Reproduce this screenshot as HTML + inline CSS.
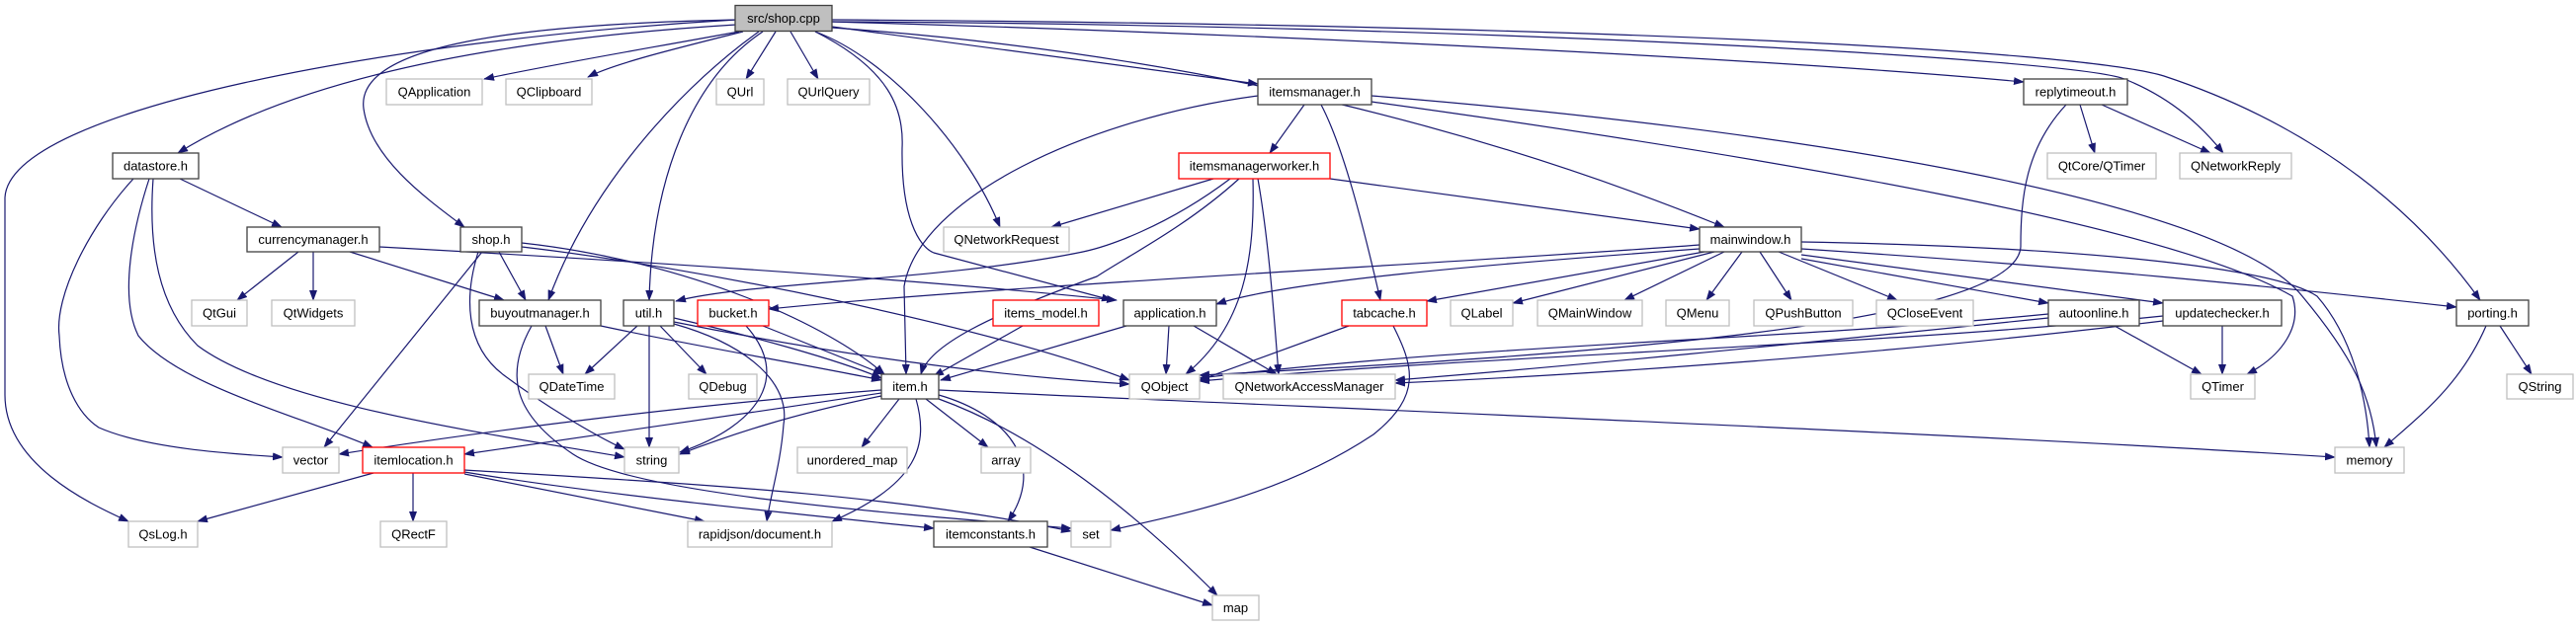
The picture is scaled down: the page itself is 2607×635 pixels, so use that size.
<!DOCTYPE html>
<html><head><meta charset="utf-8"><style>
html,body{margin:0;padding:0;background:#fff;}
svg{display:block;}
text{font-family:"Liberation Sans",sans-serif;font-size:13px;fill:#000;text-anchor:middle;}
.e{fill:none;stroke:#191970;stroke-width:1.2;marker-end:url(#a);}
.b{fill:#fff;stroke:#404040;stroke-width:1.3;}
.g{fill:#fff;stroke:#bfbfbf;stroke-width:1.3;}
.r{fill:#fff;stroke:#ff0000;stroke-width:1.3;}
</style></head><body>
<svg width="2607" height="635" viewBox="0 0 2607 635" xmlns="http://www.w3.org/2000/svg">
<defs><marker id="a" markerWidth="11" markerHeight="8" refX="10" refY="4" orient="auto" markerUnits="userSpaceOnUse"><path d="M0,0 L11,4 L0,8 z" fill="#191970"/></marker></defs>
<g>
<path class="e" d="M745,20 C400,40 10,110 5,200 L5,400 C5,470 90,510 130,528"/>
<path class="e" d="M745,25 C500,40 300,80 180,155"/>
<path class="e" d="M745,20 C500,25 360,50 368,110 C375,160 430,200 470,230"/>
<path class="e" d="M748,32 C650,50 560,65 490,80"/>
<path class="e" d="M752,32 C680,50 620,65 595,78"/>
<path class="e" d="M768,32 C700,80 600,180 555,304"/>
<path class="e" d="M772,32 C700,80 660,180 657,304"/>
<path class="e" d="M785,32 L755,80"/>
<path class="e" d="M800,32 L828,80"/>
<path class="e" d="M825,32 C900,60 980,150 1012,230"/>
<path class="e" d="M825,32 C900,70 915,110 913,150 C912,220 930,250 945,256 L1125,304"/>
<path class="e" d="M842,27 L1273,85"/>
<path class="e" d="M842,22 C1300,35 1800,60 2048,83"/>
<path class="e" d="M842,22 C1500,25 2100,60 2150,80 C2200,100 2230,130 2250,155"/>
<path class="e" d="M842,20 C1600,25 2100,50 2190,77 C2350,130 2450,220 2510,304"/>
<path class="e" d="M842,28 C1150,50 1450,110 1745,230"/>

<path class="e" d="M182,181 L285,230"/>
<path class="e" d="M135,181 C90,230 55,300 60,340 C62,390 80,420 100,433 C150,455 240,460 286,463"/>
<path class="e" d="M151,181 C135,230 120,300 140,340 C180,390 300,420 377,453"/>
<path class="e" d="M155,181 C150,250 160,310 200,350 C280,410 500,440 632,463"/>

<path class="e" d="M302,255 L240,304"/>
<path class="e" d="M317,255 L317,304"/>
<path class="e" d="M354,255 L510,304"/>
<path class="e" d="M384,250 C600,262 900,280 1130,304"/>

<path class="e" d="M505,255 L532,304"/>
<path class="e" d="M488,255 L328,453"/>
<path class="e" d="M484,255 C470,300 470,350 510,380 C550,410 600,440 632,455"/>
<path class="e" d="M528,246 C700,265 840,330 895,379"/>
<path class="e" d="M528,250 C700,270 1000,330 1143,385"/>

<path class="e" d="M552,330 L570,379"/>
<path class="e" d="M538,330 C510,380 520,420 580,460 C640,500 900,520 1084,535"/>
<path class="e" d="M608,330 C700,350 820,370 892,385"/>

<path class="e" d="M645,330 L592,379"/>
<path class="e" d="M657,330 L657,453"/>
<path class="e" d="M668,330 L715,379"/>
<path class="e" d="M682,322 C760,340 850,365 892,383"/>
<path class="e" d="M682,326 C850,360 1000,380 1143,389"/>
<path class="e" d="M682,328 C760,350 800,390 793,430 C790,470 780,500 776,528"/>

<path class="e" d="M772,330 L894,379"/>
<path class="e" d="M755,330 C800,380 770,430 688,458"/>
<path class="e" d="M1720,248 C1500,265 1000,290 778,313"/>
<path class="e" d="M1720,252 C1500,268 1300,285 1231,308"/>

<path class="e" d="M1245,181 C1180,230 1120,250 1096,255 C950,285 760,285 684,305"/>
<path class="e" d="M1254,181 C1200,230 1140,260 1110,280 C1000,320 940,350 932,379"/>
<path class="e" d="M1228,181 L1064,230"/>
<path class="e" d="M1268,181 C1270,260 1260,330 1200,379"/>
<path class="e" d="M1273,181 C1285,250 1290,330 1294,379"/>
<path class="e" d="M1346,181 L1720,232"/>

<path class="e" d="M1320,106 L1285,155"/>
<path class="e" d="M1273,97 C1100,120 930,200 915,290 L917,379"/>
<path class="e" d="M1337,106 C1360,150 1380,230 1397,304"/>
<path class="e" d="M1388,97 C1800,130 2250,200 2330,300 C2380,360 2400,400 2405,453"/>
<path class="e" d="M1388,103 C1800,160 2200,230 2320,300 C2330,330 2310,360 2274,379"/>

<path class="e" d="M2105,106 L2120,155"/>
<path class="e" d="M2127,106 L2237,155"/>
<path class="e" d="M2091,106 C2050,150 2045,200 2045,250 C2040,330 1600,360 1214,380"/>

<path class="e" d="M1725,255 L1444,305"/>
<path class="e" d="M1735,255 L1531,307"/>
<path class="e" d="M1745,255 L1644,304"/>
<path class="e" d="M1763,255 L1727,304"/>
<path class="e" d="M1781,255 L1813,304"/>
<path class="e" d="M1800,255 L1920,304"/>
<path class="e" d="M1823,262 L2073,307"/>
<path class="e" d="M1823,258 L2189,307"/>
<path class="e" d="M1823,252 C2100,270 2300,290 2486,311"/>
<path class="e" d="M1823,245 C2100,250 2300,270 2345,300 C2380,340 2395,400 2398,453"/>

<path class="e" d="M2140,330 L2228,379"/>
<path class="e" d="M2073,318 C1800,345 1500,348 1214,383"/>
<path class="e" d="M2073,322 C1800,350 1600,370 1412,385"/>
<path class="e" d="M2249,330 L2249,379"/>
<path class="e" d="M2189,320 C1900,350 1500,360 1214,386"/>
<path class="e" d="M2189,325 C1900,360 1600,380 1412,388"/>

<path class="e" d="M2530,330 L2562,379"/>
<path class="e" d="M2516,330 C2490,390 2450,420 2413,453"/>

<path class="e" d="M1140,330 L952,385"/>
<path class="e" d="M1183,330 L1180,379"/>
<path class="e" d="M1208,330 L1292,379"/>
<path class="e" d="M1035,330 L945,381"/>
<path class="e" d="M1365,330 L1214,385"/>
<path class="e" d="M1410,330 C1430,370 1440,400 1390,440 C1300,500 1200,520 1124,537"/>

<path class="e" d="M892,395 C700,410 500,435 343,460"/>
<path class="e" d="M892,398 C750,420 600,440 470,460"/>
<path class="e" d="M892,401 C800,420 740,440 688,460"/>
<path class="e" d="M910,404 L872,453"/>
<path class="e" d="M937,404 L1000,453"/>
<path class="e" d="M927,404 C940,450 930,490 842,528"/>
<path class="e" d="M950,400 C1020,420 1060,470 1020,528"/>
<path class="e" d="M950,404 C1050,440 1150,520 1232,603"/>
<path class="e" d="M950,395 C1500,420 2000,440 2363,463"/>

<path class="e" d="M378,479 L200,528"/>
<path class="e" d="M418,479 L418,528"/>
<path class="e" d="M470,480 L713,528"/>
<path class="e" d="M470,478 C600,500 800,520 945,535"/>
<path class="e" d="M470,476 C700,490 900,500 1084,538"/>
<path class="e" d="M1042,554 L1227,613"/>
</g>
<g>
<rect x="744" y="5.5" width="98" height="26" fill="#bfbfbf" stroke="#404040" stroke-width="1.3"/><text x="793" y="23">src/shop.cpp</text>

<rect class="g" x="391" y="80" width="97" height="26"/><text x="439.5" y="97.5">QApplication</text>
<rect class="g" x="512" y="80" width="87" height="26"/><text x="555.5" y="97.5">QClipboard</text>
<rect class="g" x="725" y="80" width="48" height="26"/><text x="749" y="97.5">QUrl</text>
<rect class="g" x="797" y="80" width="83" height="26"/><text x="838.5" y="97.5">QUrlQuery</text>
<rect class="b" x="1273" y="80" width="115" height="26"/><text x="1330.5" y="97.5">itemsmanager.h</text>
<rect class="b" x="2048" y="80" width="105" height="26"/><text x="2100.5" y="97.5">replytimeout.h</text>

<rect class="b" x="114" y="155" width="87" height="26"/><text x="157.5" y="172.5">datastore.h</text>
<rect class="r" x="1193" y="155" width="153" height="26"/><text x="1269.5" y="172.5">itemsmanagerworker.h</text>
<rect class="g" x="2072" y="155" width="110" height="26"/><text x="2127" y="172.5">QtCore/QTimer</text>
<rect class="g" x="2206" y="155" width="113" height="26"/><text x="2262.5" y="172.5">QNetworkReply</text>

<rect class="b" x="250" y="230" width="134" height="25"/><text x="317" y="247">currencymanager.h</text>
<rect class="b" x="466" y="230" width="62" height="25"/><text x="497" y="247">shop.h</text>
<rect class="g" x="955" y="230" width="127" height="25"/><text x="1018.5" y="247">QNetworkRequest</text>
<rect class="b" x="1720" y="230" width="103" height="25"/><text x="1771.5" y="247">mainwindow.h</text>

<rect class="g" x="194" y="304" width="56" height="26"/><text x="222" y="321.5">QtGui</text>
<rect class="g" x="275" y="304" width="84" height="26"/><text x="317" y="321.5">QtWidgets</text>
<rect class="b" x="485" y="304" width="123" height="26"/><text x="546.5" y="321.5">buyoutmanager.h</text>
<rect class="b" x="631" y="304" width="51" height="26"/><text x="656.5" y="321.5">util.h</text>
<rect class="r" x="706" y="304" width="72" height="26"/><text x="742" y="321.5">bucket.h</text>
<rect class="r" x="1005" y="304" width="107" height="26"/><text x="1058.5" y="321.5">items_model.h</text>
<rect class="b" x="1137" y="304" width="94" height="26"/><text x="1184" y="321.5">application.h</text>
<rect class="r" x="1358" y="304" width="86" height="26"/><text x="1401" y="321.5">tabcache.h</text>
<rect class="g" x="1468" y="304" width="63" height="26"/><text x="1499.5" y="321.5">QLabel</text>
<rect class="g" x="1556" y="304" width="106" height="26"/><text x="1609" y="321.5">QMainWindow</text>
<rect class="g" x="1686" y="304" width="64" height="26"/><text x="1718" y="321.5">QMenu</text>
<rect class="g" x="1775" y="304" width="100" height="26"/><text x="1825" y="321.5">QPushButton</text>
<rect class="g" x="1899" y="304" width="98" height="26"/><text x="1948" y="321.5">QCloseEvent</text>
<rect class="b" x="2073" y="304" width="92" height="26"/><text x="2119" y="321.5">autoonline.h</text>
<rect class="b" x="2189" y="304" width="120" height="26"/><text x="2249" y="321.5">updatechecker.h</text>
<rect class="b" x="2486" y="304" width="73" height="26"/><text x="2522.5" y="321.5">porting.h</text>

<rect class="g" x="535" y="379" width="87" height="25"/><text x="578.5" y="396">QDateTime</text>
<rect class="g" x="697" y="379" width="69" height="25"/><text x="731.5" y="396">QDebug</text>
<rect class="b" x="892" y="379" width="58" height="25"/><text x="921" y="396">item.h</text>
<rect class="g" x="1143" y="379" width="71" height="25"/><text x="1178.5" y="396">QObject</text>
<rect class="g" x="1238" y="379" width="174" height="25"/><text x="1325" y="396">QNetworkAccessManager</text>
<rect class="g" x="2217" y="379" width="65" height="25"/><text x="2249.5" y="396">QTimer</text>
<rect class="g" x="2537" y="379" width="67" height="25"/><text x="2570.5" y="396">QString</text>

<rect class="g" x="286" y="453" width="57" height="26"/><text x="314.5" y="470.5">vector</text>
<rect class="r" x="367" y="453" width="103" height="26"/><text x="418.5" y="470.5">itemlocation.h</text>
<rect class="g" x="632" y="453" width="55" height="26"/><text x="659.5" y="470.5">string</text>
<rect class="g" x="807" y="453" width="111" height="26"/><text x="862.5" y="470.5">unordered_map</text>
<rect class="g" x="993" y="453" width="50" height="26"/><text x="1018" y="470.5">array</text>
<rect class="g" x="2363" y="453" width="70" height="26"/><text x="2398" y="470.5">memory</text>

<rect class="g" x="130" y="528" width="70" height="26"/><text x="165" y="545.5">QsLog.h</text>
<rect class="g" x="385" y="528" width="67" height="26"/><text x="418.5" y="545.5">QRectF</text>
<rect class="g" x="696" y="528" width="146" height="26"/><text x="769" y="545.5">rapidjson/document.h</text>
<rect class="b" x="945" y="528" width="115" height="26"/><text x="1002.5" y="545.5">itemconstants.h</text>
<rect class="g" x="1084" y="528" width="40" height="26"/><text x="1104" y="545.5">set</text>

<rect class="g" x="1227" y="603" width="47" height="25"/><text x="1250.5" y="620">map</text>
</g>
</svg>
</body></html>
